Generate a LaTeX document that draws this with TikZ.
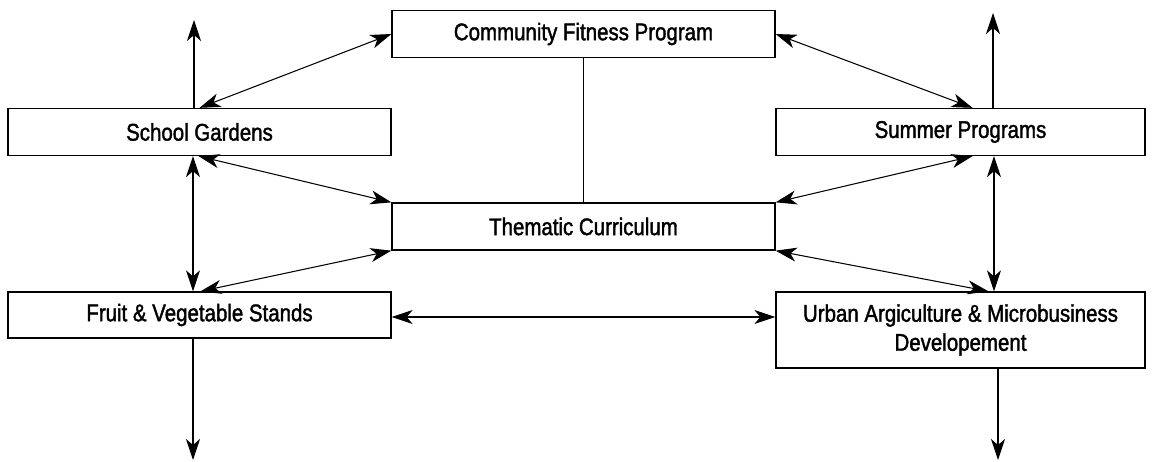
\documentclass[tikz,border=0pt]{standalone}
\usepackage{fontspec}
\setmainfont{Liberation Sans}[FakeStretch=0.85,FakeBold=1.6]
\usetikzlibrary{calc,arrows.meta}

\begin{document}
\begin{tikzpicture}[x=0.02cm,y=-0.02cm,
  box/.style={draw,line width=0.75pt,minimum width=7.66cm,minimum height=0.94cm,
    inner sep=0pt,align=center,font=\fontsize{13.7}{16.5}\selectfont},
  link/.style={line width=0.6pt,-{Stealth[length=0.42cm,width=0.28cm,inset=0.12cm]}},
  both/.style={link,{Stealth[length=0.42cm,width=0.28cm,inset=0.12cm]}-{Stealth[length=0.42cm,width=0.28cm,inset=0.12cm]}}]

% Margins of the page
\useasboundingbox (0,0) rectangle (1152,462);

% Boxes
\node[box] (cfp) at (583.5,34) {Community Fitness Program};
\node[box] (sg) at (199.5,132) {School Gardens};
\node[box,minimum width=7.38cm] (sp) at (960.5,132) {Summer Programs};
\node[box] (tc) at (583.5,226.5) {Thematic Curriculum};
\node[box,minimum height=0.92cm] (fvs) at (199.5,315) {Fruit \& Vegetable Stands};
\node[box,minimum width=7.38cm,minimum height=1.52cm] (uam) at (960.5,330)
  {Urban Argiculture \& Microbusiness\\Developement};

% Free ends of the outer arrows
\coordinate (sgup) at (194,20);
\coordinate (spup) at (993,13);
\coordinate (fvsdown) at (193,460);
\coordinate (uamdown) at (998,460);

% Line from the fitness program to the curriculum
\draw[line width=0.6pt] (cfp.south) -- (tc.north);

% Top row links
\draw[both] (sg.north) -- (cfp.west);
\draw[both] (cfp.east) -- ($(sp.north)+(12,0)$);
\draw[link] (sgup |- sg.north) -- (sgup);
\draw[link] (spup |- sp.north) -- (spup);

% Links round the curriculum
\draw[both] ($(sg.south)+(-1,0)$) -- (tc.north west);
\draw[both] (tc.north east) -- ($(sp.south)+(12,0)$);
\draw[both] (tc.south west) -- ($(fvs.north)+(1,0)$);
\draw[both] (tc.south east) -- ($(uam.north)+(28,0)$);

% Side columns
\draw[both] ($(sg.south)+(-6.5,0)$) -- ($(fvs.north)+(-6.5,0)$);
\draw[both] ($(sp.south)+(33.5,0)$) -- ($(uam.north)+(33.5,0)$);

% Bottom row
\draw[both] ($(fvs.east)+(0,2)$) -- ($(fvs.east -| uam.west)+(0,2)$);
\draw[link] (fvsdown |- fvs.south) -- (fvsdown);
\draw[link] (uamdown |- uam.south) -- (uamdown);

\end{tikzpicture}
\end{document}
